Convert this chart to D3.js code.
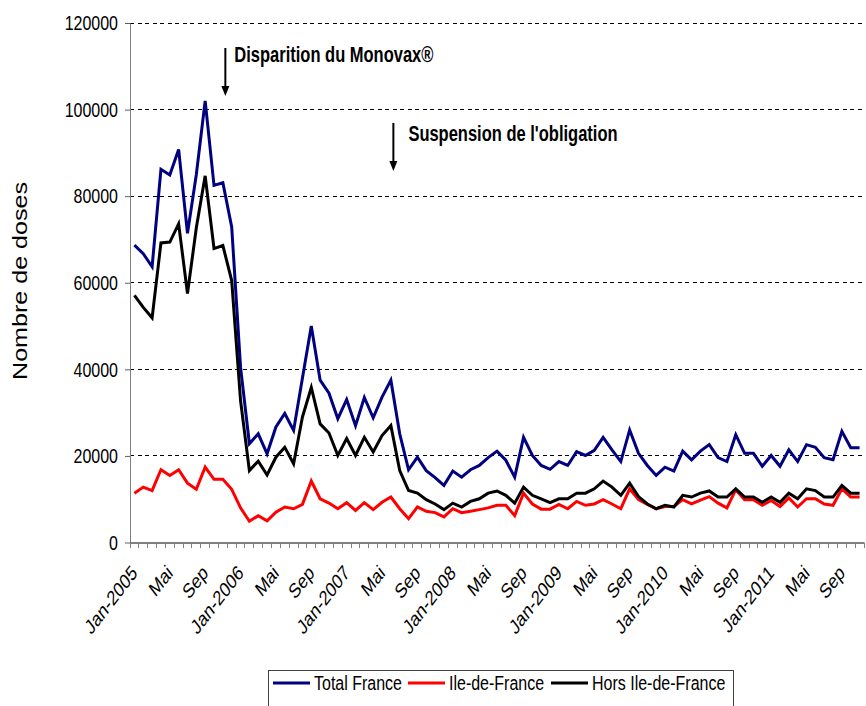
<!DOCTYPE html>
<html><head><meta charset="utf-8">
<script src="https://cdn.jsdelivr.net/npm/d3@7"></script>
<style>
body{margin:0;background:#fff}
svg{display:block}
text{font-family:"Liberation Sans",Arial,Helvetica,sans-serif;fill:#000}
</style>
</head><body>
<svg id="chart" width="866" height="706"></svg>
<script>
// ---------- DATA ----------
const monthNames = ["Jan","Fév","Mar","Avr","Mai","Juin","Juil","Aoû","Sep","Oct","Nov","Déc"];
const years = [2005, 2006, 2007, 2008, 2009, 2010, 2011];
const monthCount = 83; // Jan-2005 .. Nov-2011
const categories = [];
years.forEach(yr => monthNames.forEach((m, k) => {
  if (categories.length < monthCount) categories.push(m + "-" + yr);
}));

const totalFrance = [
  68700, 66700, 63700, 86200, 84900, 90800, 71400, 85000, 102000, 82500, 83100, 72900,
  40500, 22800, 25100, 20500, 26700, 29800, 25900, 38000, 50000, 37500, 34500, 28600,
  33000, 27000, 33500, 28800, 33600, 37500, 25100, 16800, 19700, 16600, 15000, 13200,
  16500, 15100, 16800, 17800, 19600, 21100, 19000, 15100, 24300, 20100, 17800, 16900,
  18700, 17800, 21000, 20100, 21300, 24300, 21400, 18700, 26000, 20600, 17800, 15500,
  17400, 16500, 21100, 19100, 21100, 22600, 19600, 18700, 24900, 20600, 20600, 17600,
  20100, 17600, 21400, 18700, 22600, 22000, 19600, 19100, 25700, 21900, 21900
];
const ileDeFrance = [
  11400, 12800, 12000, 16800, 15500, 16800, 13700, 12300, 17400, 14600, 14600, 12300,
  8000, 4900, 6200, 5000, 7000, 8200, 7800, 8800, 14200, 10100, 9100, 7800,
  9200, 7400, 9200, 7600, 9300, 10500, 7800, 5500, 8200, 7200, 6900, 5900,
  7800, 6900, 7200, 7600, 8000, 8600, 8600, 6200, 11400, 8900, 7700, 7700,
  8800, 7800, 9500, 8600, 8900, 9900, 8900, 7800, 12400, 9900, 8800, 7800,
  8300, 8300, 9900, 8900, 9800, 10600, 9100, 8000, 12200, 9900, 9900, 8600,
  9700, 8300, 10300, 8200, 10100, 10100, 8900, 8600, 12400, 10500, 10500
];
const horsIleDeFrance = [
  57100, 54300, 51900, 69200, 69400, 73600, 57500, 72700, 84700, 67900, 68600, 60500,
  32800, 16600, 18800, 15600, 19700, 22000, 18200, 29000, 35800, 27400, 25300, 20100,
  24000, 20100, 24300, 20900, 24700, 27000, 16600, 12000, 11400, 9900, 8900, 7600,
  9100, 8200, 9500, 10100, 11400, 11900, 10900, 9100, 12800, 10900, 10100, 9200,
  10100, 10100, 11400, 11400, 12400, 14200, 12800, 10900, 13700, 10600, 8900, 7800,
  8600, 8200, 10900, 10500, 11400, 11900, 10500, 10500, 12400, 10500, 10500, 9300,
  10500, 9300, 11400, 10100, 12400, 12000, 10500, 10500, 13200, 11400, 11400
];
const seriesNames = ["Total France", "Ile-de-France", "Hors Ile-de-France"];
const seriesColors = ["#000080", "#ff0000", "#000000"];
const yTicks = [0, 20000, 40000, 60000, 80000, 100000, 120000];
const gridTicks = [20000, 40000, 60000, 80000, 100000, 120000];
const tickLabelCats = categories.filter((c, i) => i % 4 === 0);
const annotations = [
  {label: "Disparition du Monovax®", cat: 10, top: 48, bottom: 96, textDx: 9, textY: 62},
  {label: "Suspension de l'obligation", cat: 29, top: 123, bottom: 171, textDx: 15, textY: 141}
];

// ---------- CHART ----------
const svg = d3.select("#chart");
const K = 1.3; // vertical glyph stretch of the original picture
const x = d3.scaleBand().domain(categories).range([130, 864]).padding(0);
const y = d3.scaleLinear().domain([0, 120000]).range([542.5, 23]);
const cx = c => x(c) + x.bandwidth() / 2;

// grid
svg.append("g").selectAll("line").data(gridTicks).join("line")
  .attr("x1", x.range()[0]).attr("x2", x.range()[1])
  .attr("y1", d => y(d)).attr("y2", d => y(d))
  .attr("stroke", "#000").attr("stroke-width", 1).attr("stroke-dasharray", "4,3.5")
  .attr("shape-rendering", "crispEdges");

// y axis
const yAxis = svg.append("g").attr("transform", `translate(${x.range()[0]},0)`)
  .call(d3.axisLeft(y).tickValues(yTicks).tickSize(5).tickSizeOuter(0).tickPadding(7).tickFormat(d3.format("d")));
yAxis.select(".domain").attr("stroke", "#808080");
yAxis.selectAll(".tick line").attr("stroke", "#606060");
yAxis.selectAll(".tick text").attr("font-size", 16).attr("font-family", null)
  .attr("transform", `scale(1,${K})`);

// x axis
const x0 = y(0);
const xAxis = svg.append("g").attr("transform", `translate(0,${x0})`)
  .call(d3.axisBottom(x).tickValues(tickLabelCats).tickSize(0).tickSizeOuter(0)
    .tickFormat(c => { const i = categories.indexOf(c); const m = i % 12; return m === 0 ? c : monthNames[m]; }));
xAxis.select(".domain").attr("stroke", "#000");
xAxis.selectAll(".tick text").attr("font-size", 16).attr("font-family", null)
  .attr("text-anchor", "end").attr("x", 0).attr("y", 0).attr("dy", "0.35em")
  .attr("transform", `translate(0,26.5) scale(1,${K}) rotate(-45)`);
const bounds = categories.map(c => x(c)).concat([x.range()[1]]);
svg.append("g").selectAll("line").data(bounds).join("line")
  .attr("x1", d => d).attr("x2", d => d).attr("y1", x0).attr("y2", x0 + 5)
  .attr("stroke", "#808080").attr("stroke-width", 1).attr("shape-rendering", "crispEdges");

// y label
svg.append("text").text("Nombre de doses")
  .attr("font-size", 19.3).attr("text-anchor", "middle")
  .attr("transform", `translate(26.5,281) scale(1,${K}) rotate(-90)`);

// lines
const line = d3.line().x((d, i) => cx(categories[i])).y(d => y(d));
[totalFrance, ileDeFrance, horsIleDeFrance].forEach((s, k) => {
  svg.append("path").datum(s).attr("d", line)
    .attr("fill", "none").attr("stroke", seriesColors[k]).attr("stroke-width", 3)
    .attr("stroke-linejoin", "miter").attr("stroke-miterlimit", 4);
});

// annotations
annotations.forEach(a => {
  const ax = cx(categories[a.cat]) + 2.5;
  svg.append("line").attr("x1", ax).attr("x2", ax).attr("y1", a.top).attr("y2", a.bottom - 8)
    .attr("stroke", "#000").attr("stroke-width", 2);
  svg.append("path").attr("d", `M${ax - 4},${a.bottom - 10}L${ax + 4},${a.bottom - 10}L${ax},${a.bottom}Z`)
    .attr("fill", "#000");
  svg.append("text").text(a.label).attr("font-size", 16.5).attr("font-weight", "bold")
    .attr("transform", `translate(${ax + a.textDx},${a.textY}) scale(1,${K})`);
});

// legend
const lg = svg.append("g");
lg.append("rect").attr("x", 268.5).attr("y", 670.5).attr("width", 465).attr("height", 50)
  .attr("fill", "#fff").attr("stroke", "#404040").attr("stroke-width", 1);
const legendX = [273, 408, 551];
seriesNames.forEach((n, k) => {
  lg.append("line").attr("x1", legendX[k]).attr("x2", legendX[k] + 37).attr("y1", 683).attr("y2", 683)
    .attr("stroke", seriesColors[k]).attr("stroke-width", 3);
  lg.append("text").text(n).attr("font-size", 16).attr("dy", "0.35em")
    .attr("transform", `translate(${legendX[k] + 41},683) scale(1,${K})`);
});
</script>
</body></html>
